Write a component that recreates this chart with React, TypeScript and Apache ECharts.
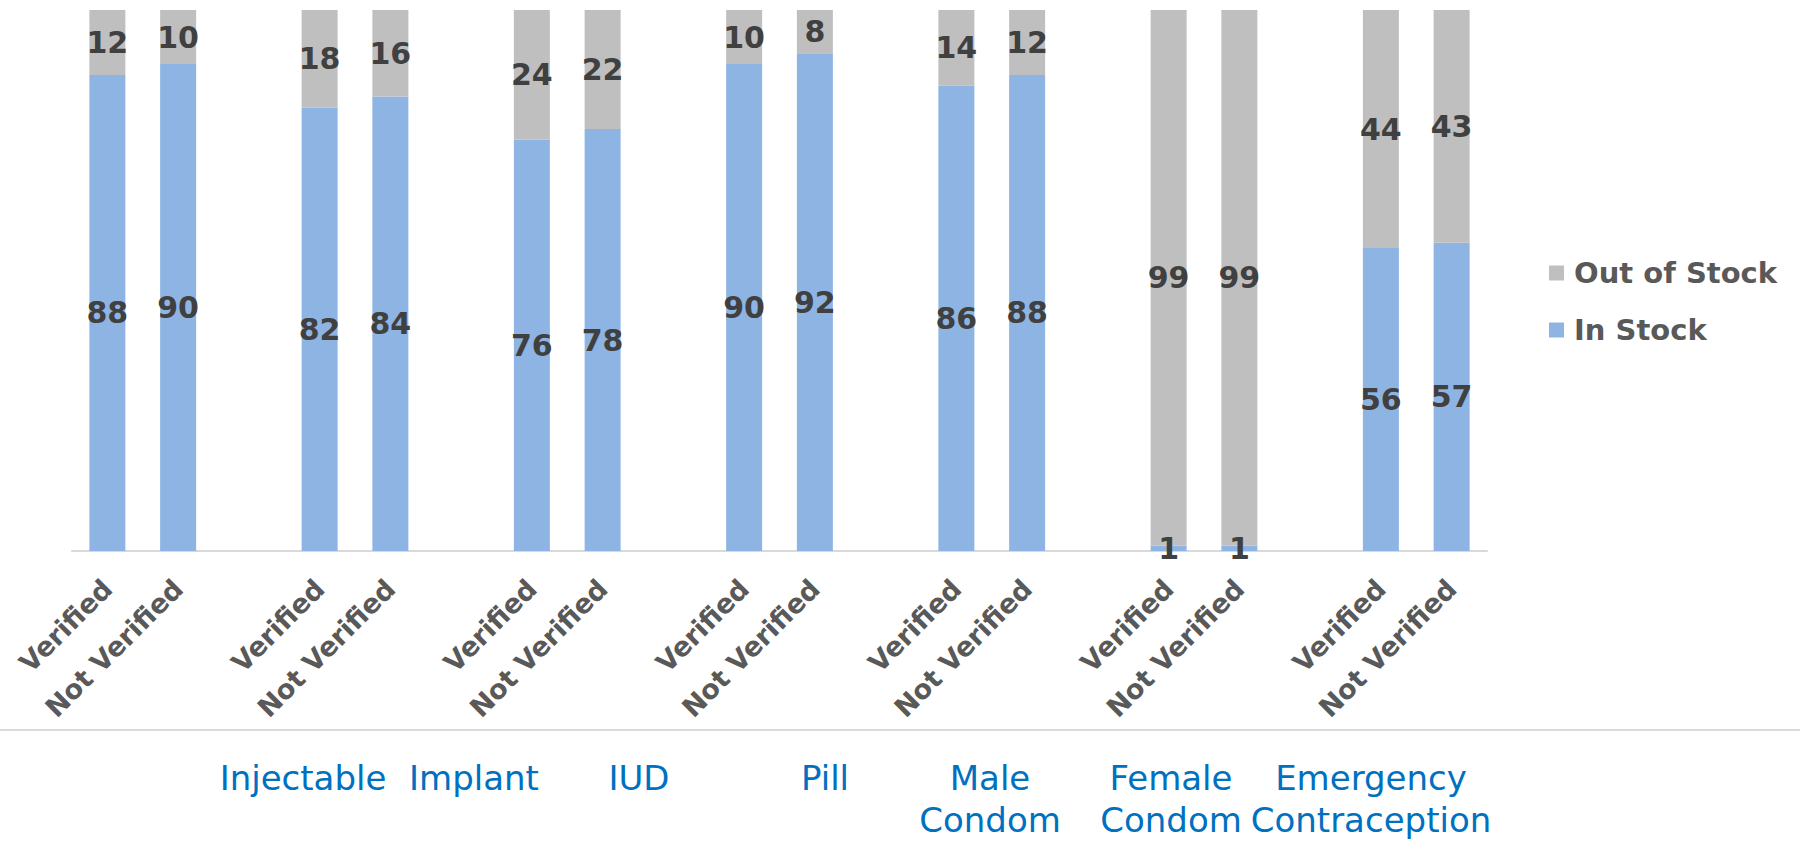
import React, { useEffect, useRef } from "react";
import * as echarts from "echarts";

// Bar slots along the axis: each product has a Verified / Not Verified pair,
// separated by an empty slot.
const slotLabels = [
  "Verified", "Not Verified", "",
  "Verified", "Not Verified", "",
  "Verified", "Not Verified", "",
  "Verified", "Not Verified", "",
  "Verified", "Not Verified", "",
  "Verified", "Not Verified", "",
  "Verified", "Not Verified",
];

const products = [
  "Injectable",
  "Implant",
  "IUD",
  "Pill",
  "Male\nCondom",
  "Female\nCondom",
  "Emergency\nContraception",
];

// Percentages per bar, in slot order (Verified, Not Verified for each product)
const inStock = [88, 90, 82, 84, 76, 78, 90, 92, 86, 88, 1, 1, 56, 57];
const outOfStock = [12, 10, 18, 16, 24, 22, 10, 8, 14, 12, 99, 99, 44, 43];

// Horizontal centres of the product captions under the chart
const productLabelX = [303, 474, 639, 825, 990, 1171, 1371];

const FONT = "'DejaVu Sans', Verdana, sans-serif";

// Spread the pairs across the slots, leaving the gap slots empty
function toSlots(values: number[]): (number | string)[] {
  const out: (number | string)[] = [];
  values.forEach((v, i) => {
    out.push(v);
    if (i % 2 === 1 && i < values.length - 1) out.push("-");
  });
  return out;
}

export default function App() {
  const ref = useRef<HTMLDivElement>(null);

  useEffect(() => {
    document.body.style.margin = "0";
    const chart = echarts.init(ref.current!, null, { renderer: "svg" });

    const dataLabel = {
      show: true,
      position: "inside",
      color: "#404040",
      fontFamily: FONT,
      fontWeight: "bold",
      fontSize: 30,
      formatter: (p: any) => (typeof p.value === "number" ? String(p.value) : ""),
    };

    chart.setOption({
      animation: false,
      backgroundColor: "#ffffff",
      grid: { left: 72, right: 313, top: 10, bottom: 291, containLabel: false },
      legend: {
        orient: "vertical",
        left: 1544,
        top: 253,
        itemWidth: 15,
        itemHeight: 15,
        itemGap: 27,
        icon: "rect",
        data: ["Out of Stock", "In Stock"],
        textStyle: {
          fontFamily: FONT,
          fontSize: 29,
          fontWeight: "bold",
          color: "#595959",
          lineHeight: 30,
          padding: [0, 0, 0, 5],
        },
      },
      xAxis: {
        type: "category",
        data: slotLabels,
        axisLine: { lineStyle: { color: "#D9D9D9", width: 2 } },
        axisTick: { show: false },
        axisLabel: {
          interval: 0,
          rotate: 45,
          margin: 33,
          color: "#595959",
          fontFamily: FONT,
          fontSize: 27,
          fontWeight: "bold",
        },
      },
      yAxis: {
        type: "value",
        min: 0,
        max: 100,
        show: false,
        splitLine: { show: false },
      },
      series: [
        {
          name: "In Stock",
          type: "bar",
          stack: "stock",
          barWidth: 36,
          itemStyle: { color: "#8EB4E3" },
          label: dataLabel,
          data: toSlots(inStock),
        },
        {
          name: "Out of Stock",
          type: "bar",
          stack: "stock",
          barWidth: 36,
          itemStyle: { color: "#BFBFBF" },
          label: dataLabel,
          data: toSlots(outOfStock),
        },
      ],
      graphic: [
        {
          type: "line",
          shape: { x1: 0, y1: 730, x2: 1800, y2: 730 },
          style: { stroke: "#D9D9D9", lineWidth: 2 },
        },
        ...products.map((name, i) => ({
          type: "text",
          x: productLabelX[i],
          y: 757,
          style: {
            text: name,
            fill: "#0070C0",
            font: `34px ${FONT}`,
            align: "center",
            verticalAlign: "top",
            lineHeight: 42,
          },
        })),
      ],
    });

    return () => chart.dispose();
  }, []);

  return <div ref={ref} style={{ width: 1800, height: 842 }} />;
}
